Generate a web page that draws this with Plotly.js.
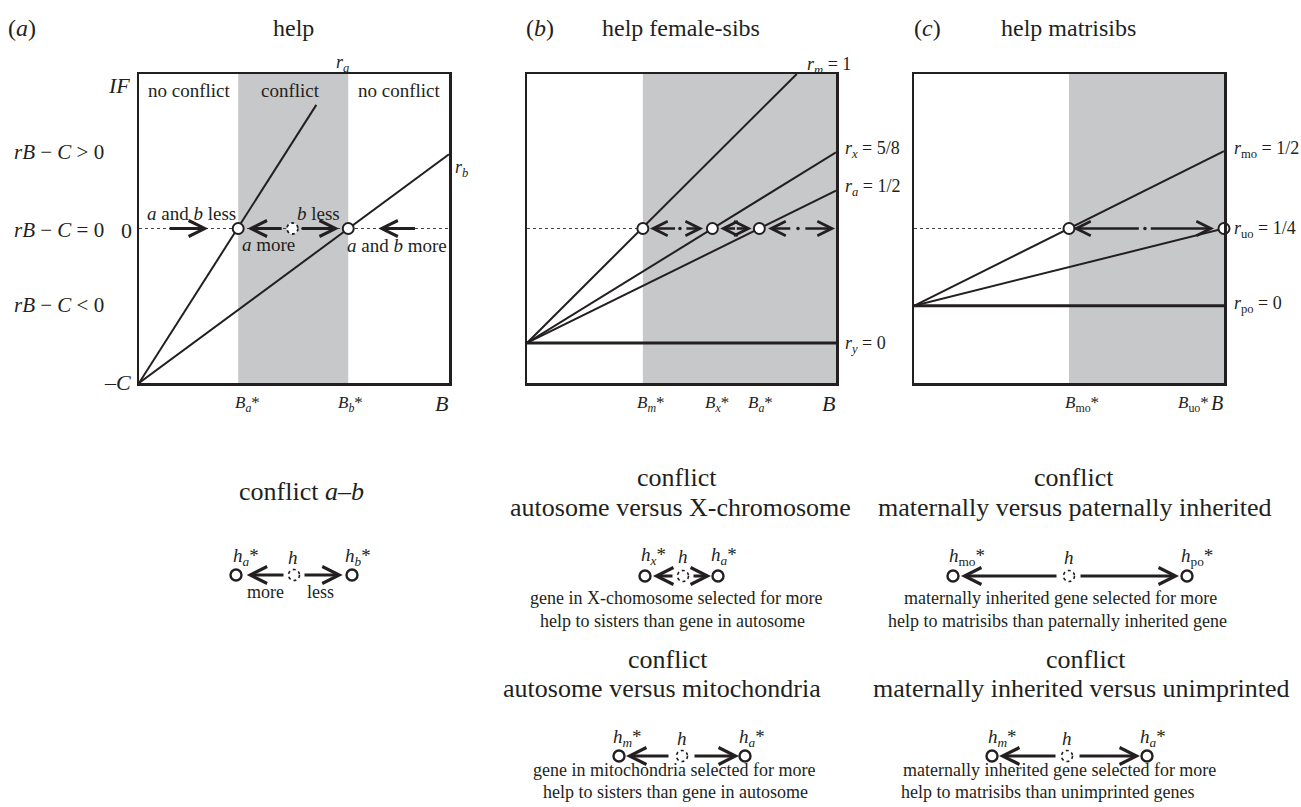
<!DOCTYPE html>
<html><head><meta charset="utf-8">
<script src="https://cdn.plot.ly/plotly-3.0.1.min.js"></script>
<style>html,body{margin:0;padding:0;background:#fff;}#chart{width:1301px;height:807px;}</style>
</head><body><div id="chart"></div>
<script>
// ---------------- DATA ----------------
// Panel (a): help
const aBstar = [3.2, 6.75];                 // B_a*, B_b*
const aRaX = [0, 5.72], aRaY = [-1, 0.8];   // line r_a
const aRbX = [0, 10],   aRbY = [-1, 0.48];  // line r_b
const aZeroX = [0, 10], aZeroY = [0, 0];
const aHelpX = [4.95];                      // current help h (dotted circle)
const aArrowHead = [2.23, 3.5, 6.45, 7.72];
const aArrowTail = [0.94, 4.65, 5.2, 8.95];

// Panel (b): help female-sibs
const bBstar = [3.75, 6.0, 7.52];           // B_m*, B_x*, B_a*
const bRmX = [0, 8.73], bRmY = [-1, 1.35];  // r_m = 1
const bRxX = [0, 10],   bRxY = [-1, 0.665]; // r_x = 5/8
const bRaX = [0, 10],   bRaY = [-1, 0.33];  // r_a = 1/2
const bRyX = [0, 10],   bRyY = [-1, -1];    // r_y = 0
const bZeroX = [0, 3.75], bZeroY = [0, 0];
const bArrowHead = [3.98, 5.70, 6.25, 7.27, 7.80, 9.97];
const bArrowTail = [4.84, 5.11, 6.78, 6.74, 8.57, 8.96];
const bDots = [4.95, 8.77];

// Panel (c): help matrisibs
const cBstar = [5.0, 10.0];                 // B_mo*, B_uo*
const cRmoX = [0, 10], cRmoY = [-1, 1];     // r_mo = 1/2
const cRuoX = [0, 10], cRuoY = [-1, 0];     // r_uo = 1/4
const cRpoX = [0, 10], cRpoY = [-1, -1];    // r_po = 0
const cZeroX = [0, 5.0], cZeroY = [0, 0];
const cArrowHead = [5.13, 9.68];
const cArrowTail = [7.3, 7.59];
const cDots = [7.45];

// Text
const titles = ['(<i>a</i>)', 'help', '(<i>b</i>)', 'help female-sibs', '(<i>c</i>)', 'help matrisibs'];
const rowLabels = ['<i>rB</i> − <i>C</i> > 0', '<i>rB</i> − <i>C</i> = 0', '<i>rB</i> − <i>C</i> < 0'];
const zoneLabels = ['no conflict', 'conflict', 'no conflict'];
const aArrowLabels = ['<i>a</i> and <i>b</i> less', '<i>b</i> less', '<i>a</i> more', '<i>a</i> and <i>b</i> more'];
const aBLabels = ['<i>B<sub>a</sub></i>*', '<i>B<sub>b</sub></i>*'];
const bBLabels = ['<i>B<sub>m</sub></i>*', '<i>B<sub>x</sub></i>*', '<i>B<sub>a</sub></i>*'];
const cBLabels = ['<i>B</i><sub>mo</sub>*', '<i>B</i><sub>uo</sub>*'];
const bRLabels = ['<i>r<sub>m</sub></i> = 1', '<i>r<sub>x</sub></i> = 5/8', '<i>r<sub>a</sub></i> = 1/2', '<i>r<sub>y</sub></i> = 0'];
const cRLabels = ['<i>r</i><sub>mo</sub> = 1/2', '<i>r</i><sub>uo</sub> = 1/4', '<i>r</i><sub>po</sub> = 0'];
const conflictHeads = ['conflict <i>a</i>–<i>b</i>', 'conflict', 'autosome versus X-chromosome', 'conflict', 'autosome versus mitochondria',
                       'conflict', 'maternally versus paternally inherited', 'conflict', 'maternally inherited versus unimprinted'];
const conflictNotes = ['gene in X-chomosome selected for more', 'help to sisters than gene in autosome',
                       'gene in mitochondria selected for more', 'help to sisters than gene in autosome',
                       'maternally inherited gene selected for more', 'help to matrisibs than paternally inherited gene',
                       'maternally inherited gene selected for more', 'help to matrisibs than unimprinted genes'];

// ---------------- DRAWING ----------------
const W = 1301, H = 807;
const INK = '#231f20', SHADE = '#c7c8ca', FONT = '"Liberation Serif", "Times New Roman", serif';
const px = v => v / W, py = v => 1 - v / H;
const yDom = [py(383), py(74)];

function T(text, x, y, size, extra) {
  return Object.assign({text, xref: 'paper', yref: 'paper', x: px(x), y: py(y), showarrow: false,
    xanchor: 'center', yanchor: 'middle', font: {family: FONT, size, color: INK}}, extra || {});
}
function arrowD(xa, ya, head, tail, w, s) {
  return {xref: xa, yref: ya, axref: xa, ayref: ya, x: head, y: 0, ax: tail, ay: 0, text: '',
    showarrow: true, arrowhead: 5, arrowwidth: w, arrowsize: s, arrowcolor: INK};
}
function arrowP(head, tail, y) {
  return {xref: 'paper', yref: 'paper', x: px(head), y: py(y), axref: 'pixel', ayref: 'pixel',
    ax: tail - head, ay: 0, text: '', showarrow: true, arrowhead: 5, arrowwidth: 3, arrowsize: 1.1, arrowcolor: INK};
}
function circP(cx, cy, dotted) {
  return {type: 'circle', xref: 'paper', yref: 'paper', xsizemode: 'pixel', ysizemode: 'pixel',
    xanchor: px(cx), yanchor: py(cy), x0: -5.5, x1: 5.5, y0: -5.5, y1: 5.5,
    fillcolor: 'white', line: {color: INK, width: dotted ? 1.6 : 2.4, dash: dotted ? 'dot' : 'solid'}};
}
function line(x, y, xa, ya, width, dash) {
  return {type: 'scatter', mode: 'lines', x, y, xaxis: xa, yaxis: ya, hoverinfo: 'skip',
    line: {color: dash ? '#444' : INK, width, dash: dash || 'solid'}, showlegend: false};
}
function circles(x, xa, ya) {
  return {type: 'scatter', mode: 'markers', x, y: x.map(() => 0), xaxis: xa, yaxis: ya, cliponaxis: false,
    hoverinfo: 'skip', showlegend: false, marker: {size: 11, color: 'white', line: {color: INK, width: 2}}};
}
function dots(x, xa, ya) {
  return {type: 'scatter', mode: 'markers', x, y: x.map(() => 0), xaxis: xa, yaxis: ya, cliponaxis: false,
    hoverinfo: 'skip', showlegend: false, marker: {size: 3.5, color: INK}};
}

const traces = [
  line(aZeroX, aZeroY, 'x', 'y', 1, 'dot'),
  line(aRaX, aRaY, 'x', 'y', 2),
  line(aRbX, aRbY, 'x', 'y', 2),
  circles(aBstar, 'x', 'y'),

  line(bZeroX, bZeroY, 'x2', 'y2', 1, 'dot'),
  line(bRmX, bRmY, 'x2', 'y2', 2),
  line(bRxX, bRxY, 'x2', 'y2', 2),
  line(bRaX, bRaY, 'x2', 'y2', 2),
  line(bRyX, bRyY, 'x2', 'y2', 3),
  dots(bDots, 'x2', 'y2'),
  circles(bBstar, 'x2', 'y2'),

  line(cZeroX, cZeroY, 'x3', 'y3', 1, 'dot'),
  line(cRmoX, cRmoY, 'x3', 'y3', 2),
  line(cRuoX, cRuoY, 'x3', 'y3', 2),
  line(cRpoX, cRpoY, 'x3', 'y3', 3),
  dots(cDots, 'x3', 'y3'),
  circles(cBstar, 'x3', 'y3'),
];

const axBase = {showgrid: false, zeroline: false, showticklabels: false, ticks: '', showline: true,
  mirror: true, linecolor: INK, linewidth: 2.5, fixedrange: true};

const shapes = [
  {type: 'rect', xref: 'x', yref: 'y domain', x0: aBstar[0], x1: aBstar[1], y0: 0, y1: 1, fillcolor: SHADE, line: {width: 0}, layer: 'below'},
  {type: 'rect', xref: 'x2', yref: 'y2 domain', x0: bBstar[0], x1: 10, y0: 0, y1: 1, fillcolor: SHADE, line: {width: 0}, layer: 'below'},
  {type: 'rect', xref: 'x3', yref: 'y3 domain', x0: cBstar[0], x1: 10, y0: 0, y1: 1, fillcolor: SHADE, line: {width: 0}, layer: 'below'},
  {type: 'circle', xref: 'x', yref: 'y', xsizemode: 'pixel', ysizemode: 'pixel', xanchor: aHelpX[0], yanchor: 0,
   x0: -5.5, x1: 5.5, y0: -5.5, y1: 5.5, fillcolor: 'white', line: {color: INK, width: 1.8, dash: 'dot'}},
];

const ann = [];
// titles
[[22, 0], [293, 1], [540, 2], [681, 3], [927, 4], [1068, 5]].forEach(([x, i]) => ann.push(T(titles[i], x, 28, 24)));
// panel (a) texts
ann.push(T('<i>IF</i>', 119, 85, 22));
ann.push(T('0', 126, 230, 22));
ann.push(T('–<i>C</i>', 117, 383, 22));
[152, 230, 305].forEach((y, i) => ann.push(T(rowLabels[i], 12, y, 21, {xanchor: 'left'})));
[189, 290, 399].forEach((x, i) => ann.push(T(zoneLabels[i], x, 90, 19)));
ann.push(T('<i>r<sub>a</sub></i>', 343, 64, 18));
ann.push(T('<i>r<sub>b</sub></i>', 461, 168, 18));
[[192, 213], [318, 213], [268, 244], [397, 246]].forEach(([x, y], i) => ann.push(T(aArrowLabels[i], x, y, 19)));
[247, 350].forEach((x, i) => ann.push(T(aBLabels[i], x, 404, 17)));
ann.push(T('<i>B</i>', 441, 403, 22));
aArrowHead.forEach((h, i) => ann.push(arrowD('x', 'y', h, aArrowTail[i], 3, 1.05)));
// panel (b)
[[805, 65], [843, 150], [843, 188], [843, 345]].forEach(([x, y], i) => ann.push(T(bRLabels[i], x, y, 18, {xanchor: 'left'})));
[650, 717, 760].forEach((x, i) => ann.push(T(bBLabels[i], x, 404, 17)));
ann.push(T('<i>B</i>', 828, 403, 22));
bArrowHead.forEach((h, i) => ann.push(arrowD('x2', 'y2', h, bArrowTail[i], 2.6, 1.1)));
// panel (c)
[149, 229, 304].forEach((y, i) => ann.push(T(cRLabels[i], 1232, y, 18, {xanchor: 'left'})));
[1082, 1193].forEach((x, i) => ann.push(T(cBLabels[i], x, 404, 17)));
ann.push(T('<i>B</i>', 1217, 403, 20));
cArrowHead.forEach((h, i) => ann.push(arrowD('x3', 'y3', h, cArrowTail[i], 2.6, 1.1)));

// bottom conflict diagrams
[[301, 492], [677, 477], [680, 508], [668, 659], [662, 688], [1074, 477], [1074, 508], [1086, 659], [1081, 688]]
  .forEach(([x, y], i) => ann.push(T(conflictHeads[i], x, y, 26)));
[[676, 598], [672, 621], [674, 770], [675, 792], [1060, 598], [1057, 621], [1059, 770], [1047, 792]]
  .forEach(([x, y], i) => ann.push(T(conflictNotes[i], x, y, 18)));
ann.push(T('more', 265, 592, 18));
ann.push(T('less', 320, 592, 18));

const diagrams = [
  {labels: ['<i>h<sub>a</sub></i>*', '<i>h</i>', '<i>h<sub>b</sub></i>*'], lx: [246, 293, 358], ly: 557, cy: 575, cx: [236, 294, 352], arrows: [[246.7, 285], [342.7, 303]]},
  {labels: ['<i>h<sub>x</sub></i>*', '<i>h</i>', '<i>h<sub>a</sub></i>*'], lx: [653, 683, 724], ly: 556, cy: 576, cx: [645, 683, 718], arrows: [[653, 674], [711, 692]]},
  {labels: ['<i>h<sub>m</sub></i>*', '<i>h</i>', '<i>h<sub>a</sub></i>*'], lx: [627, 682, 752], ly: 738, cy: 756, cx: [619, 682, 745], arrows: [[626, 670], [739, 693]]},
  {labels: ['<i>h</i><sub>mo</sub>*', '<i>h</i>', '<i>h</i><sub>po</sub>*'], lx: [967, 1069, 1197], ly: 557, cy: 576, cx: [953, 1069, 1187], arrows: [[961, 1058], [1179, 1079]]},
  {labels: ['<i>h<sub>m</sub></i>*', '<i>h</i>', '<i>h<sub>a</sub></i>*'], lx: [1003, 1067, 1153], ly: 738, cy: 756, cx: [992, 1067, 1147], arrows: [[999, 1057], [1140, 1078]]},
];
diagrams.forEach(d => {
  d.labels.forEach((l, i) => ann.push(T(l, d.lx[i], d.ly, 19)));
  d.cx.forEach((c, i) => shapes.push(circP(c, d.cy, i === 1)));
  d.arrows.forEach(([h, t]) => ann.push(arrowP(h, t, d.cy)));
});

const layout = {
  width: W, height: H, margin: {l: 0, r: 0, t: 0, b: 0}, paper_bgcolor: 'white', plot_bgcolor: 'white',
  showlegend: false, font: {family: FONT, color: INK},
  xaxis:  Object.assign({}, axBase, {domain: [px(139), px(449)], range: [0, 10], anchor: 'y'}),
  yaxis:  Object.assign({}, axBase, {domain: yDom, range: [-1, 1], anchor: 'x'}),
  xaxis2: Object.assign({}, axBase, {domain: [px(527), px(836)], range: [0, 10], anchor: 'y2'}),
  yaxis2: Object.assign({}, axBase, {domain: yDom, range: [-1.35, 1.35], anchor: 'x2'}),
  xaxis3: Object.assign({}, axBase, {domain: [px(914), px(1224)], range: [0, 10], anchor: 'y3'}),
  yaxis3: Object.assign({}, axBase, {domain: yDom, range: [-2, 2], anchor: 'x3'}),
  shapes, annotations: ann
};
Plotly.newPlot('chart', traces, layout, {staticPlot: true, displayModeBar: false});
</script></body></html>
